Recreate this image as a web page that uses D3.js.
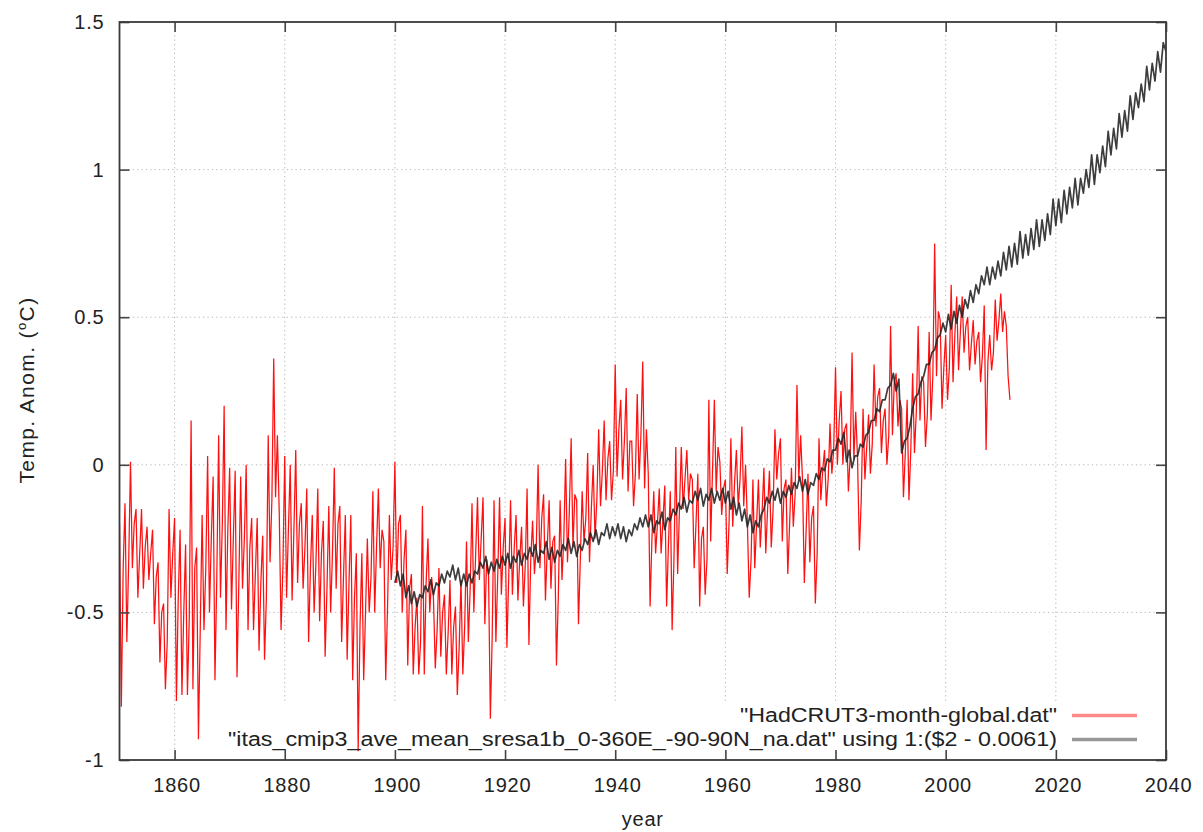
<!DOCTYPE html>
<html><head><meta charset="utf-8">
<script src="https://cdn.jsdelivr.net/npm/d3@7"></script>
<style>
body{margin:0;background:#fff}
svg{display:block}
text{font-family:"Liberation Sans",Arial,Helvetica,sans-serif;fill:#222}
</style>
</head><body>
<svg id="chart" width="1203" height="832"></svg>
<script>
// HadCRUT3 monthly global anomaly: per-year high, low and core readings, 1850-2011
const redStart = 1850;
const redHi = [-0.20,-0.13,0.01,-0.15,-0.15,-0.21,-0.22,-0.33,-0.47,-0.15,
 -0.18,-0.22,-0.27,0.15,-0.28,-0.17,0.03,-0.04,0.10,0.20,
 -0.01,-0.02,-0.04,0.00,-0.18,-0.18,-0.24,0.10,0.36,-0.16,
 0.03,0.00,0.05,-0.13,-0.08,-0.17,-0.08,-0.19,-0.14,-0.01,
 -0.14,-0.17,-0.17,-0.30,-0.30,-0.25,-0.09,-0.08,-0.26,-0.17,
 0.01,-0.17,-0.22,-0.37,-0.45,-0.14,-0.25,-0.45,-0.35,-0.44,
 -0.39,-0.48,-0.39,-0.26,-0.13,-0.11,-0.11,-0.37,-0.12,-0.11,
 -0.18,-0.12,-0.17,-0.21,-0.08,-0.19,0.00,-0.10,-0.12,-0.24,
 -0.12,0.02,0.09,-0.12,-0.09,0.04,0.00,0.12,0.15,0.08,
 0.34,0.22,0.26,0.08,0.24,0.35,-0.03,-0.09,-0.08,-0.07,
 -0.09,0.06,0.06,0.05,-0.05,-0.03,-0.21,0.22,0.22,0.01,
 -0.05,0.09,0.05,0.13,-0.20,-0.05,-0.05,-0.01,-0.02,0.12,
 0.09,-0.05,-0.01,0.27,-0.05,-0.03,-0.14,0.09,0.05,0.14,
 0.33,0.25,0.14,0.38,0.02,0.19,0.17,0.34,0.26,0.19,
 0.47,0.31,0.19,0.22,0.31,0.47,0.28,0.45,0.75,0.49,
 0.44,0.61,0.57,0.57,0.50,0.49,0.45,0.54,0.44,0.56,
 0.58,0.47];
const redLo = [-0.82,-0.60,-0.35,-0.45,-0.42,-0.39,-0.54,-0.67,-0.76,-0.45,
 -0.80,-0.78,-0.78,-0.76,-0.93,-0.56,-0.50,-0.73,-0.45,-0.56,
 -0.49,-0.72,-0.42,-0.56,-0.56,-0.63,-0.66,-0.33,-0.11,-0.56,
 -0.45,-0.46,-0.40,-0.42,-0.60,-0.50,-0.53,-0.65,-0.50,-0.42,
 -0.60,-0.66,-0.73,-0.97,-0.73,-0.50,-0.50,-0.35,-0.73,-0.39,
 -0.40,-0.50,-0.68,-0.71,-0.71,-0.71,-0.50,-0.69,-0.65,-0.71,
 -0.71,-0.78,-0.71,-0.60,-0.50,-0.39,-0.54,-0.86,-0.60,-0.44,
 -0.62,-0.44,-0.46,-0.48,-0.61,-0.37,-0.35,-0.46,-0.42,-0.68,
 -0.39,-0.33,-0.28,-0.54,-0.26,-0.33,-0.25,-0.14,-0.12,-0.12,
 -0.04,-0.05,-0.09,-0.14,-0.05,-0.08,-0.48,-0.30,-0.30,-0.48,
 -0.56,-0.37,-0.15,-0.12,-0.35,-0.48,-0.44,-0.26,-0.09,-0.17,
 -0.37,-0.21,-0.14,-0.14,-0.45,-0.35,-0.28,-0.30,-0.28,-0.05,
 -0.26,-0.37,-0.21,-0.05,-0.40,-0.33,-0.47,-0.12,-0.14,-0.03,
 0.00,0.00,-0.09,0.02,-0.29,-0.05,-0.03,0.13,0.04,0.00,
 0.10,0.13,-0.11,-0.12,0.04,0.15,0.06,0.15,0.30,0.19,
 0.22,0.28,0.32,0.38,0.32,0.34,0.28,0.05,0.32,0.42,
 0.45,0.30];
const redMid = [-0.35,-0.33,-0.20,-0.30,-0.28,-0.30,-0.38,-0.50,-0.60,-0.30,
 -0.45,-0.50,-0.52,-0.35,-0.55,-0.35,-0.25,-0.38,-0.20,-0.22,
 -0.25,-0.40,-0.25,-0.28,-0.37,-0.40,-0.45,-0.12,0.10,-0.35,
 -0.22,-0.22,-0.20,-0.28,-0.35,-0.33,-0.30,-0.42,-0.30,-0.20,
 -0.38,-0.40,-0.45,-0.55,-0.50,-0.38,-0.28,-0.22,-0.48,-0.28,
 -0.20,-0.32,-0.42,-0.55,-0.60,-0.40,-0.38,-0.56,-0.50,-0.57,
 -0.55,-0.62,-0.55,-0.42,-0.30,-0.25,-0.32,-0.58,-0.38,-0.28,
 -0.38,-0.28,-0.32,-0.34,-0.32,-0.28,-0.18,-0.28,-0.26,-0.45,
 -0.25,-0.16,-0.10,-0.32,-0.18,-0.15,-0.12,-0.02,0.02,-0.02,
 0.12,0.08,0.08,-0.03,0.10,0.12,-0.25,-0.20,-0.19,-0.27,
 -0.32,-0.15,-0.05,-0.03,-0.20,-0.25,-0.32,-0.02,0.06,-0.08,
 -0.20,-0.06,-0.05,0.00,-0.32,-0.20,-0.16,-0.15,-0.15,0.04,
 -0.08,-0.20,-0.10,0.10,-0.22,-0.18,-0.30,-0.02,-0.05,0.05,
 0.15,0.12,0.03,0.18,-0.12,0.06,0.07,0.23,0.15,0.10,
 0.28,0.22,0.04,0.05,0.18,0.30,0.17,0.30,0.52,0.33,
 0.33,0.44,0.45,0.47,0.41,0.42,0.37,0.35,0.38,0.49,
 0.52,0.22];

// CMIP3 SRES A1B multi-model mean: per-year high and low readings, 1900-2040
const blackStart = 1900;
const blackHi = [-0.36,-0.37,-0.41,-0.43,-0.44,-0.41,-0.39,-0.40,-0.37,-0.36,
 -0.34,-0.35,-0.37,-0.37,-0.36,-0.33,-0.31,-0.33,-0.32,-0.31,
 -0.30,-0.31,-0.29,-0.30,-0.28,-0.27,-0.29,-0.26,-0.28,-0.29,
 -0.27,-0.25,-0.26,-0.27,-0.25,-0.23,-0.22,-0.23,-0.20,-0.21,
 -0.20,-0.21,-0.22,-0.20,-0.18,-0.17,-0.17,-0.19,-0.16,-0.18,
 -0.15,-0.13,-0.11,-0.12,-0.09,-0.08,-0.10,-0.08,-0.09,-0.08,
 -0.09,-0.11,-0.13,-0.15,-0.17,-0.19,-0.17,-0.11,-0.09,-0.08,
 -0.09,-0.07,-0.06,-0.04,-0.05,-0.06,-0.03,-0.01,0.02,0.05,
 0.09,0.11,0.05,0.03,0.07,0.10,0.15,0.19,0.22,0.26,
 0.31,0.29,0.08,0.13,0.23,0.28,0.34,0.38,0.43,0.48,
 0.51,0.52,0.54,0.56,0.59,0.61,0.64,0.67,0.67,0.69,
 0.72,0.74,0.75,0.79,0.78,0.80,0.83,0.83,0.85,0.90,
 0.90,0.93,0.94,0.97,0.97,1.00,1.05,1.05,1.08,1.13,
 1.14,1.19,1.20,1.25,1.26,1.29,1.35,1.36,1.40,1.43,
 1.50];
const blackLo = [-0.40,-0.41,-0.45,-0.47,-0.48,-0.45,-0.43,-0.44,-0.41,-0.40,
 -0.38,-0.39,-0.41,-0.41,-0.40,-0.37,-0.35,-0.37,-0.36,-0.35,
 -0.34,-0.35,-0.33,-0.34,-0.32,-0.31,-0.33,-0.30,-0.32,-0.33,
 -0.31,-0.29,-0.30,-0.31,-0.29,-0.27,-0.26,-0.27,-0.24,-0.25,
 -0.24,-0.25,-0.26,-0.24,-0.22,-0.21,-0.21,-0.23,-0.20,-0.22,
 -0.19,-0.17,-0.15,-0.16,-0.13,-0.12,-0.14,-0.12,-0.13,-0.12,
 -0.13,-0.15,-0.17,-0.19,-0.21,-0.23,-0.21,-0.15,-0.13,-0.12,
 -0.13,-0.11,-0.10,-0.08,-0.09,-0.10,-0.07,-0.05,-0.02,0.01,
 0.05,0.07,0.01,-0.01,0.03,0.06,0.11,0.15,0.18,0.22,
 0.27,0.25,0.04,0.09,0.19,0.24,0.30,0.34,0.39,0.44,
 0.45,0.46,0.48,0.50,0.53,0.55,0.58,0.61,0.61,0.63,
 0.64,0.66,0.67,0.68,0.70,0.71,0.73,0.74,0.76,0.78,
 0.81,0.82,0.85,0.87,0.88,0.92,0.94,0.95,0.99,1.01,
 1.05,1.07,1.11,1.13,1.17,1.21,1.23,1.27,1.30,1.33,
 1.40];

const xTicks = [1860,1880,1900,1920,1940,1960,1980,2000,2020,2040];
const yTicks = [-1,-0.5,0,0.5,1,1.5];
const yTickLabels = ["-1","-0.5","0","0.5","1","1.5"];
const legendLabels = ['"HadCRUT3-month-global.dat"',
  '"itas_cmip3_ave_mean_sresa1b_0-360E_-90-90N_na.dat" using 1:($2 - 0.0061)'];
const xTitle = "year";

(function(){
const m = {l:119.5, r:1166, t:22, b:760};
const svg = d3.select("#chart");
const x = d3.scaleLinear().domain([1850,2040]).range([m.l,m.r]);
const y = d3.scaleLinear().domain([-1,1.5]).range([m.b,m.t]);

// grid
const legendBox = {x0:220, x1:1150, y0:702};
const grid = svg.append("g");
xTicks.filter(t=>t<2040).forEach(t=>{
  const px = x(t);
  const yb = (px>legendBox.x0 && px<legendBox.x1) ? legendBox.y0 : m.b;
  grid.append("line").attr("x1",px).attr("x2",px).attr("y1",m.t).attr("y2",yb)
    .attr("stroke","#b4b4b4").attr("stroke-width",1).attr("stroke-dasharray","1.2,3.2");
});
yTicks.filter(t=>t>-1 && t<1.5).forEach(t=>{
  grid.append("line").attr("x1",m.l).attr("x2",m.r).attr("y1",y(t)).attr("y2",y(t))
    .attr("stroke","#b4b4b4").attr("stroke-width",1).attr("stroke-dasharray","1.2,3.2");
});

// data
svg.append("clipPath").attr("id","clip").append("rect")
  .attr("x",m.l).attr("y",m.t).attr("width",m.r-m.l).attr("height",m.b-m.t);
const redPts = [];
redHi.forEach((v,i)=>{
  redPts.push([redStart+i, v]);
  redPts.push([redStart+i+1/3, redLo[i]]);
  redPts.push([redStart+i+2/3, redMid[i]]);
});
const blackPts = [];
blackHi.forEach((v,i)=>{ blackPts.push([blackStart+i, blackLo[i]]); blackPts.push([blackStart+i+0.5, v]); });
const line = d3.line().x(d=>x(d[0])).y(d=>y(d[1]));
const plot = svg.append("g").attr("clip-path","url(#clip)");
plot.append("path").datum(redPts).attr("d",line).attr("fill","none")
  .attr("stroke","#ff1010").attr("stroke-width",1.25).attr("stroke-linejoin","miter");
plot.append("path").datum(blackPts).attr("d",line).attr("fill","none")
  .attr("stroke","#222").attr("stroke-width",1.7).attr("stroke-linejoin","round").attr("opacity",0.88);

// axes
const fmt = (d)=>yTickLabels[yTicks.indexOf(d)];
const ax = svg.append("g").attr("class","axes");
ax.append("g").attr("transform",`translate(${m.l},0)`)
  .call(d3.axisLeft(y).tickValues(yTicks).tickFormat(fmt).tickSize(-10).tickPadding(15));
ax.append("g").attr("transform",`translate(${m.r},0)`)
  .call(d3.axisRight(y).tickValues(yTicks).tickFormat("").tickSize(-10));
const axB = ax.append("g").attr("transform",`translate(0,${m.b})`)
  .call(d3.axisBottom(x).tickValues(xTicks).tickFormat(d3.format("d")).tickSize(-10).tickPadding(18));
ax.append("g").attr("transform",`translate(0,${m.t})`)
  .call(d3.axisTop(x).tickValues(xTicks).tickFormat("").tickSize(-10));
ax.selectAll(".domain").remove();
ax.selectAll(".tick line").attr("stroke","#444").attr("stroke-width",1.6);
ax.selectAll(".tick text").attr("font-size",20).attr("fill","#222")
  .attr("font-family","'Liberation Sans',Arial,sans-serif").style("letter-spacing","0.8px");
axB.selectAll(".tick text").attr("dx",2);
svg.append("rect").attr("x",m.l).attr("y",m.t).attr("width",m.r-m.l).attr("height",m.b-m.t)
  .attr("fill","none").attr("stroke","#3a3a3a").attr("stroke-width",1.8);

// titles
svg.append("text").attr("x",(m.l+m.r)/2).attr("y",826).attr("text-anchor","middle")
  .attr("font-size",20).style("letter-spacing","0.8px").text(xTitle);
const yt = svg.append("text").attr("transform","translate(34,390) rotate(-90)")
  .attr("text-anchor","middle").attr("font-size",21).style("letter-spacing","1.4px");
yt.append("tspan").text("Temp. Anom. (");
yt.append("tspan").attr("font-size",13).attr("dy",-8).text("o");
yt.append("tspan").attr("dy",8).text("C)");

// legend
const lg = svg.append("g");
const legendColors = ["#ff8a8a","#979797"];
const legendX = [740, 228], legendW = [317, 829], legendY = [722, 746];
legendLabels.forEach((s,i)=>{
  lg.append("text").attr("x",legendX[i]).attr("y",legendY[i]).attr("font-size",19.5)
    .attr("textLength",legendW[i]).attr("lengthAdjust","spacingAndGlyphs").text(s);
  lg.append("line").attr("x1",1072).attr("x2",1137).attr("y1",legendY[i]-6.5).attr("y2",legendY[i]-6.5)
    .attr("stroke",legendColors[i]).attr("stroke-width",3.5);
});
})();
</script>
</body></html>
